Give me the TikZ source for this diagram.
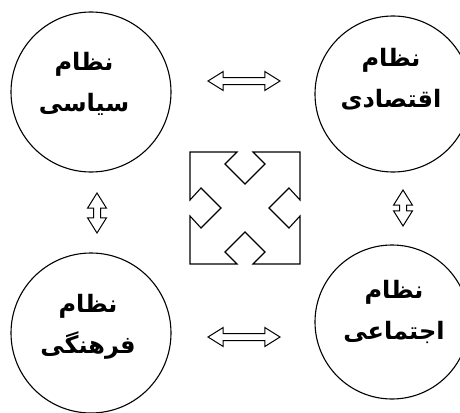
\documentclass[tikz,border=0pt]{standalone}
\usepackage{fontspec}
\TeXXeTstate=1
\newfontfamily\farsi[Script=Arabic]{DejaVu Sans}
\usetikzlibrary{shapes.arrows,calc}

\begin{document}
\begin{tikzpicture}[x=1pt,y=-1pt,
  sys/.style={draw,circle,line width=1.1pt,inner sep=0pt},
  txt/.style={align=center,inner sep=0pt,font=\farsi\bfseries\fontsize{24}{41}\selectfont},
  dbl/.style={draw,double arrow,line width=1pt,inner sep=3pt,double arrow head extend=6pt,double arrow tip angle=64}]
\useasboundingbox (0,0) rectangle (460,412);
\node[sys,minimum size=160pt] (pol) at (91,92) {};
\node[sys,minimum size=156pt] (eco) at (393,94) {};
\node[sys,minimum size=160pt] (cul) at (91,333) {};
\node[sys,minimum size=154pt] (soc) at (392,322) {};
\node[txt] (polt) at (84,84) {\beginR نظام\endR\\\beginR سیاسی\endR};
\node[txt] (ecot) at (391,79) {\beginR نظام\endR\\\beginR اقتصادی\endR};
\node[txt] (cult) at (88,327) {\beginR نظام\endR\\\beginR فرهنگی\endR};
\node[txt] (soct) at (394,312) {\beginR نظام\endR\\\beginR اجتماعی\endR};
% arrows between the systems
\node[dbl,minimum height=72pt] (pe) at (244,81) {};
\node[dbl,minimum height=72pt] (cs) at (244,337) {};
\node[dbl,minimum height=40pt,rotate=90] (pc) at (97,213) {};
\node[dbl,minimum height=36pt,rotate=90] (es) at (403,208) {};
% four-way arrow in the middle
\coordinate (mid) at (245,208);
\begin{scope}[shift={(mid)}]
\draw[line width=1.1pt,line join=miter] (-55,-56) -- (-8,-56) -- (-20,-44) -- (0,-24) -- (20,-44) -- (8,-56) -- (55,-56)
  -- (55,-8) -- (44,-20) -- (24,0) -- (44,20) -- (55,8) -- (55,56)
  -- (8,56) -- (20,44) -- (0,24) -- (-20,44) -- (-8,56) -- (-55,56)
  -- (-55,8) -- (-44,20) -- (-24,0) -- (-44,-20) -- (-55,-8) -- cycle;
\end{scope}
\end{tikzpicture}
\end{document}
